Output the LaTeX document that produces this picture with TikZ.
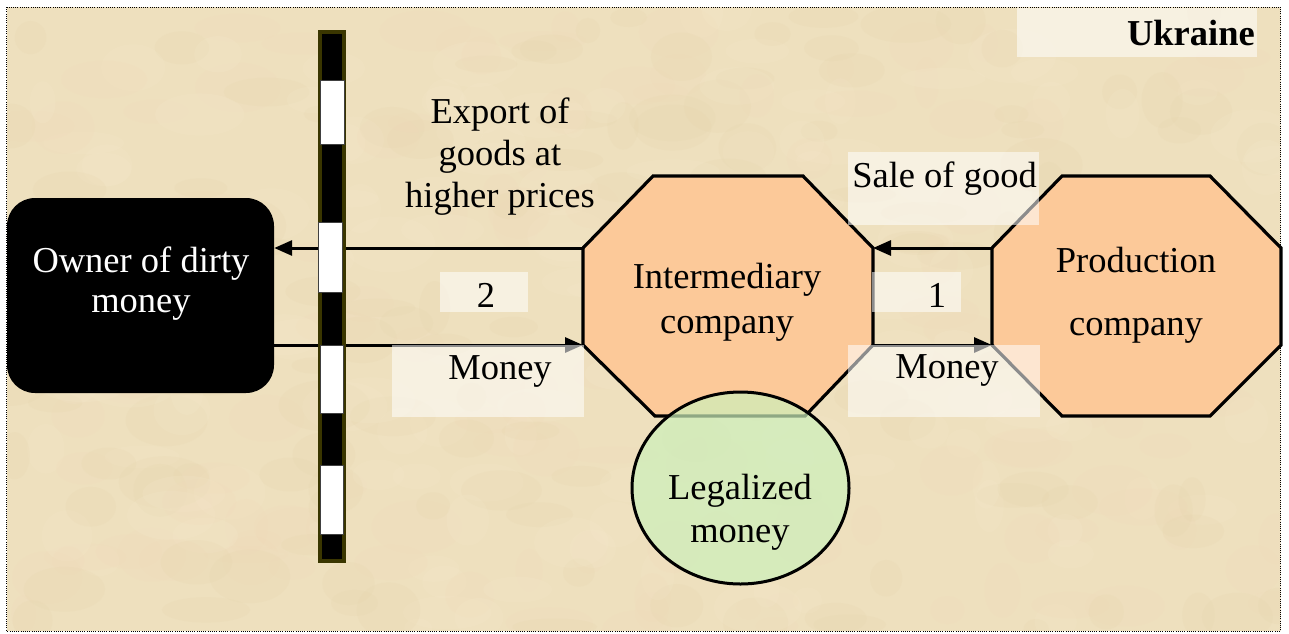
\documentclass[tikz,border=0pt]{standalone}
\usepackage{fontspec}
\setmainfont{Liberation Serif}
\usetikzlibrary{arrows.meta,shapes.geometric}
\definecolor{parch}{RGB}{238,224,190}
\definecolor{parchlight}{RGB}{247,236,208}
\definecolor{parchdark}{RGB}{228,210,168}
\definecolor{parchpink}{RGB}{242,216,184}
\definecolor{peach}{RGB}{252,201,153}
\definecolor{mint}{RGB}{204,240,187}
\definecolor{poleolive}{RGB}{58,54,0}
% several centred rows whose first baseline is the node's base
\newcommand\txtrows[2]{\begingroup\fontsize{36.5}{#1}\selectfont\begin{tabular}[t]{@{}c@{}}#2\end{tabular}\endgroup}
\tikzset{
  lbl/.style={font=\fontsize{36.5}{44}\selectfont, inner sep=0pt, anchor=base},
  flow/.style={line width=3pt, -{Triangle[length=18pt,width=15pt]}},
  outline/.style={line width=3.2pt, line join=miter},
  tag/.style={fill=white, fill opacity=0.55},
  bar/.style={fill=white, draw=black!75, line width=1pt},
}
\begin{document}
\begin{tikzpicture}[x=1pt,y=-1pt]
\useasboundingbox (0,0) rectangle (1289,633);
\fill[white] (0,0) rectangle (1289,633);

% parchment background
\begin{scope}
  \clip (6.5,7) rectangle (1280.5,631);
  \fill[parch] (6.5,7) rectangle (1280.5,631);
  \pgfmathsetseed{7}
  \foreach \i in {1,...,420}{
    \pgfmathsetmacro\px{6+1275*rnd}
    \pgfmathsetmacro\py{7+624*rnd}
    \pgfmathsetmacro\rx{12+35*rnd}
    \pgfmathsetmacro\ry{8+20*rnd}
    \pgfmathtruncatemacro\k{mod(\i,3)}
    \ifcase\k \def\blotch{parchlight}\or \def\blotch{parchdark}\or \def\blotch{parchpink}\fi
    \fill[\blotch, opacity=0.16] (\px,\py) ellipse [x radius=\rx, y radius=\ry];
  }
\end{scope}
\draw[dash pattern=on 1pt off 1.2pt, line width=1pt] (6.5,7) rectangle (1280.5,631);

% octagon corners
\coordinate (inter-wn) at (583,248);
\coordinate (inter-ws) at (583,345);
\coordinate (inter-en) at (873,248);
\coordinate (inter-es) at (873,345);
\coordinate (prod-wn) at (992,248);
\coordinate (prod-ws) at (992,345);

% owner
\node[fill=black, rounded corners=28pt, minimum width=267pt, minimum height=195pt, inner sep=0pt] (owner) at (140.5,295.5) {};

% flows
\draw[flow] (inter-wn) -- (inter-wn -| owner.east);
\draw[flow] (inter-ws -| owner.east) -- (inter-ws);
\draw[flow] (prod-wn) -- (inter-en);
\draw[flow] (inter-es) -- (prod-ws);

% companies
\draw[outline, fill=peach] (inter-wn) -- (653,176) -- (803,176) -- (inter-en) -- (inter-es)
  -- (805,416) -- (655,416) -- (inter-ws) -- cycle;
\draw[outline, fill=peach] (prod-wn) -- (1062,176) -- (1210,176) -- (1281,248) -- (1281,345)
  -- (1210,416) -- (1062,416) -- (prod-ws) -- cycle;

% legalized money
\node[ellipse, draw, line width=3pt, fill=mint, fill opacity=0.7, minimum width=217pt, minimum height=192pt, inner sep=0pt] (legal) at (740.5,488) {};

% label backgrounds
\fill[tag] (1017,8) rectangle (1257,57);
\fill[tag] (848,152) rectangle (1039,225);
\fill[tag] (440,272) rectangle (528,312);
\fill[tag] (872,272) rectangle (961,312);
\fill[tag] (392,345) rectangle (584,417);
\fill[tag] (848,345) rectangle (1040,417);

% texts
\node[lbl] (export) at (500,123) {\txtrows{42}{Export of\\goods at\\higher prices}};
\node[lbl, text=white] (owner-t) at (141,272) {\txtrows{40}{Owner of dirty\\money}};
\node[lbl] (inter-t) at (727,288) {\txtrows{45}{Intermediary\\company}};
\node[lbl] (prod-t) at (1136,272) {\txtrows{63}{Production\\company}};
\node[lbl] (legal-t) at (740,499) {\txtrows{43}{Legalized\\money}};
\node[lbl] (two) at (486,307) {2};
\node[lbl] (one) at (937,307) {1};
\node[lbl] (money-l) at (500,379) {Money};
\node[lbl] (money-r) at (947,378) {Money};
\node[lbl] (sale) at (944.5,187) {Sale of good};
\node[lbl, anchor=base east, font=\fontsize{36.5}{44}\selectfont\bfseries] (country) at (1255,45) {Ukraine};

% border barrier
\fill[poleolive] (318,30) rectangle (346,563);
\fill[black] (322,34) rectangle (342,559);
\draw[bar] (320,80) rectangle (344,144);
\draw[bar] (318,222) rectangle (342,292);
\draw[bar] (320,345) rectangle (343,413);
\draw[bar] (320,465) rectangle (343,534);
\end{tikzpicture}
\end{document}
